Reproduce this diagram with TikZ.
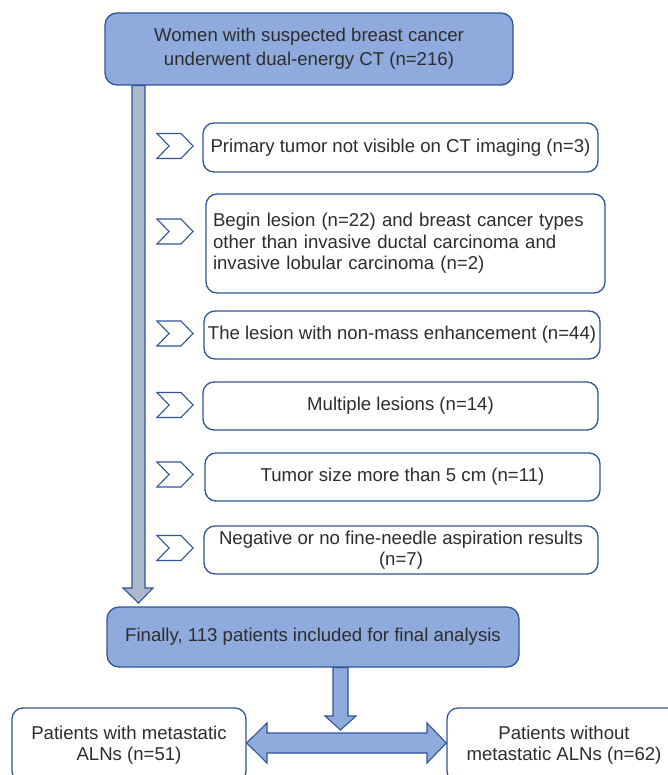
\documentclass[tikz,border=0pt]{standalone}
\usepackage{fontspec}
\setmainfont{Liberation Sans}
\usetikzlibrary{calc}
\definecolor{bordc}{RGB}{47,85,151}
\definecolor{bluef}{RGB}{143,170,220}
\definecolor{grayf}{RGB}{173,185,202}
\definecolor{txtc}{RGB}{45,45,45}
\begin{document}
\begin{tikzpicture}[x=1pt,y=-1pt,
  every node/.style={font=\fontsize{18.6}{21.5}\selectfont, text=txtc},
  bluebox/.style={draw=bordc, line width=1.3pt, fill=bluef, rounded corners=12pt, inner sep=0pt, align=center},
  whitebox/.style={draw=bordc, line width=1.3pt, fill=white, rounded corners=11pt, inner sep=0pt, align=center},
  chev/.style={draw=bordc, line width=1.1pt, fill=white, line join=miter},
  garrow/.style={draw=bordc, line width=1.1pt, fill=grayf, line join=miter},
  barrow/.style={draw=bordc, line width=1.1pt, fill=bluef, line join=miter}]
\useasboundingbox (0,0) rectangle (668,775);
\clip (0,0) rectangle (668,775);

\node[bluebox, minimum width=408pt, minimum height=72pt, font=\fontsize{18.6}{24}\selectfont] (top) at (309,49)
  {Women with suspected breast cancer\\underwent dual-energy CT (n=216)};

\node[whitebox, minimum width=395pt, minimum height=49pt] (e1) at (400.5,147.5)
  {Primary tumor not visible on CT imaging (n=3)};
\node[whitebox, inner xsep=7pt, text width=385pt, align=left, minimum height=99pt] (e2) at (405.5,243.5)
  {Begin lesion (n=22) and breast cancer types\\other than invasive ductal carcinoma and\\invasive lobular carcinoma (n=2)};
\node[whitebox, minimum width=396pt, minimum height=48pt] (e3) at (402,335)
  {The lesion with non-mass enhancement (n=44)};
\node[whitebox, minimum width=395pt, minimum height=48pt] (e4) at (400.5,406)
  {Multiple lesions (n=14)};
\node[whitebox, minimum width=395pt, minimum height=48pt] (e5) at (402.5,477)
  {Tumor size more than 5 cm (n=11)};
\node[whitebox, minimum width=394pt, minimum height=48pt] (e6) at (401,550)
  {Negative or no fine-needle aspiration results\\(n=7)};

\node[bluebox, minimum width=412pt, minimum height=60pt] (fin) at (313,637)
  {Finally, 113 patients included for final analysis};

\node[whitebox, minimum width=234pt, minimum height=74pt] (lb) at (129,745)
  {Patients with metastatic\\ALNs (n=51)};
\node[whitebox, minimum width=234pt, minimum height=74pt] (rb) at (564,745)
  {Patients without\\metastatic ALNs (n=62)};

% chevrons
\foreach \c in {146,231.5,333.5,405,474.5,548}{
  \draw[chev] (157,\c-12.5) -- (181,\c-12.5) -- (193,\c) -- (181,\c+12.5) -- (157,\c+12.5) -- (169,\c) -- cycle;
}

% grey flow arrow from top box to final box
\coordinate (gtip) at (138.5,603);
\draw[garrow] (132,0 |- top.south) -- (132,588) -- (123,588) -- (gtip) -- (153,588) -- (145,588) -- (145,0 |- top.south) -- cycle;

% blue down arrow
\draw[barrow] (333,0 |- fin.south) -- (333,716) -- (325,716) -- (340.5,730) -- (356,716) -- (348,716) -- (348,0 |- fin.south) -- cycle;

% double arrow
\draw[barrow] (lb.east |- 0,743) -- (267,723) -- (267,733) -- (427,733) -- (427,723) -- (rb.west |- 0,743) -- (427,763) -- (427,753) -- (267,753) -- (267,763) -- cycle;
\end{tikzpicture}
\end{document}
